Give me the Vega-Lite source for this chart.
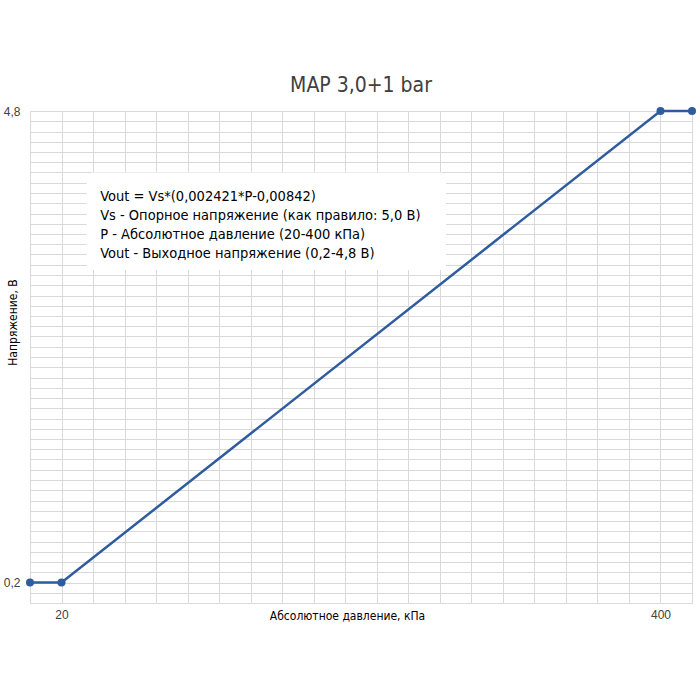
{
  "$schema": "https://vega.github.io/schema/vega-lite/v6.json",
  "width": 662,
  "height": 492,
  "autosize": {"type": "none"},
  "padding": {"left": 30, "top": 111, "right": 8, "bottom": 97},
  "background": "white",
  "title": {
    "text": "MAP 3,0+1 bar",
    "font": "DejaVu Sans Condensed",
    "fontSize": 21,
    "fontWeight": "normal",
    "color": "#404040",
    "anchor": "middle",
    "offset": 9
  },
  "config": {
    "view": {"stroke": null},
    "axis": {
      "gridColor": "#d9d9d9",
      "gridWidth": 1,
      "domainColor": "#d9d9d9",
      "tickSize": 0,
      "tickCount": 500,
      "labelOverlap": false,
      "labelFont": "Liberation Sans",
      "labelFontSize": 12,
      "labelColor": "#404040",
      "titleFont": "DejaVu Sans Condensed",
      "titleFontSize": 12,
      "titleFontWeight": "normal",
      "titleColor": "#000000"
    }
  },
  "datasets": {
    "curve": [
      {"p": 0, "v": 0.2},
      {"p": 20, "v": 0.2},
      {"p": 400, "v": 4.8},
      {"p": 420, "v": 4.8}
    ],
    "box": [
      {"x1": 36, "x2": 264, "y1": 3.25, "y2": 4.2}
    ],
    "notes": [
      {"x": 44.5, "y": 3.96, "t": "Vout = Vs*(0,002421*P-0,00842)"},
      {"x": 44.5, "y": 3.775, "t": "Vs - Опорное напряжение (как правило: 5,0 В)"},
      {"x": 44.5, "y": 3.589, "t": "P - Абсолютное давление (20-400 кПа)"},
      {"x": 44.5, "y": 3.404, "t": "Vout - Выходное напряжение (0,2-4,8 В)"}
    ]
  },
  "layer": [
    {
      "data": {"name": "curve"},
      "mark": {"type": "line", "color": "#2f5c9e", "strokeWidth": 2.5},
      "encoding": {
        "x": {
          "field": "p", "type": "quantitative",
          "scale": {"domain": [0, 420], "nice": false, "zero": false},
          "axis": {
            "values": [0,20,40,60,80,100,120,140,160,180,200,220,240,260,280,300,320,340,360,380,400,420],
            "tickCount": 500,
            "labelExpr": "datum.value == 20 || datum.value == 400 ? datum.label : ''",
            "labelPadding": 11,
            "labelBaseline": "middle",
            "title": "Абсолютное давление, кПа",
            "titleX": 317,
            "titleY": 12,
            "titleBaseline": "middle",
            "titleAnchor": null
          }
        },
        "y": {
          "field": "v", "type": "quantitative",
          "scale": {"domain": [0, 4.8], "nice": false, "zero": false},
          "axis": {
            "values": [0,0.1,0.2,0.3,0.4,0.5,0.6,0.7,0.8,0.9,1,1.1,1.2,1.3,1.4,1.5,1.6,1.7,1.8,1.9,2,2.1,2.2,2.3,2.4,2.5,2.6,2.7,2.8,2.9,3,3.1,3.2,3.3,3.4,3.5,3.6,3.7,3.8,3.9,4,4.1,4.2,4.3,4.4,4.5,4.6,4.7,4.8],
            "tickCount": 500,
            "labelExpr": "abs(datum.value - 0.2) < 0.001 ? '0,2' : (abs(datum.value - 4.8) < 0.001 ? '4,8' : '')",
            "labelPadding": 10,
            "title": "Напряжение, В",
            "titleX": -18,
            "titleY": 211,
            "titleBaseline": "middle",
            "titleAnchor": null
          }
        }
      }
    },
    {
      "data": {"name": "curve"},
      "mark": {"type": "point", "filled": true, "color": "#2f5c9e", "size": 64, "opacity": 1},
      "encoding": {
        "x": {"field": "p", "type": "quantitative"},
        "y": {"field": "v", "type": "quantitative"}
      }
    },
    {
      "data": {"name": "box"},
      "mark": {"type": "rect", "color": "white", "cornerRadius": 6},
      "encoding": {
        "x": {"field": "x1", "type": "quantitative"},
        "x2": {"field": "x2"},
        "y": {"field": "y1", "type": "quantitative"},
        "y2": {"field": "y2"}
      }
    },
    {
      "data": {"name": "notes"},
      "mark": {"type": "text", "align": "left", "baseline": "middle", "font": "DejaVu Sans Condensed", "fontSize": 14.5, "color": "#000000"},
      "encoding": {
        "x": {"field": "x", "type": "quantitative"},
        "y": {"field": "y", "type": "quantitative"},
        "text": {"field": "t"}
      }
    }
  ]
}
